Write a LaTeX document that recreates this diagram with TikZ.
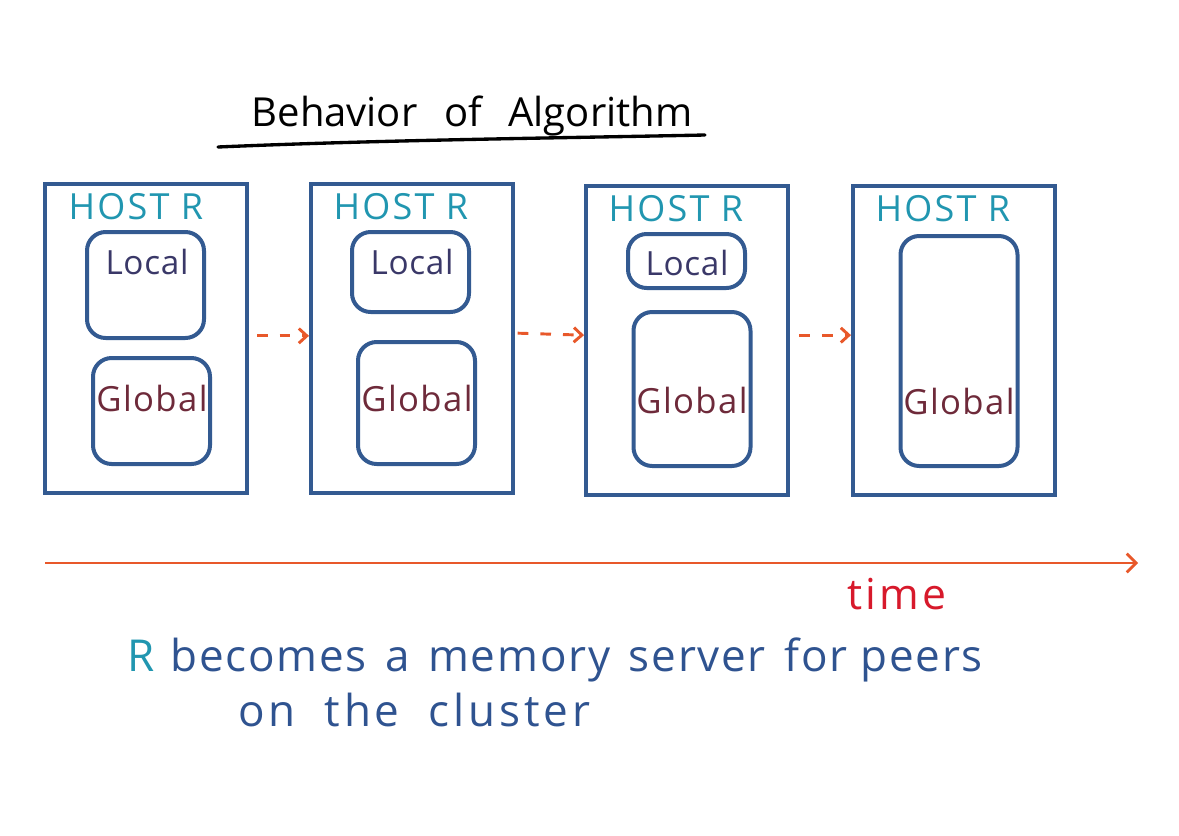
\documentclass[tikz,border=0pt]{standalone}
\usepackage{fontspec}
\setmainfont{Open Sans}
\usetikzlibrary{arrows.meta,calc}
\definecolor{boxblue}{RGB}{51,90,145}
\definecolor{hostcol}{RGB}{33,150,176}
\definecolor{localcol}{RGB}{58,56,104}
\definecolor{globalcol}{RGB}{110,42,58}
\definecolor{orangecol}{RGB}{232,88,42}
\definecolor{timecol}{RGB}{215,25,43}
\definecolor{textblue}{RGB}{47,83,144}
\tikzset{
  hostbox/.style={draw=boxblue, line width=3pt, minimum width=202*0.75pt, minimum height=309*0.75pt, inner sep=0pt},
  membox/.style={draw=boxblue, line width=3pt, rounded corners=14pt, minimum width=117*0.75pt, inner sep=0pt},
  hostlbl/.style={text=hostcol, font=\fontsize{27}{30}\selectfont\addfontfeature{LetterSpace=6}, inner sep=0pt},
  locallbl/.style={text=localcol, font=\fontsize{25}{28}\selectfont\addfontfeature{LetterSpace=2}, inner sep=0pt},
  globallbl/.style={text=globalcol, font=\fontsize{26}{30}\selectfont\addfontfeature{LetterSpace=4}, inner sep=0pt},
  dasharr/.style={draw=orangecol, line width=2.2pt, dash pattern=on 8pt off 9pt, -{Straight Barb[length=6pt,width=11pt,line width=2.2pt]}},
}
\begin{document}
\begin{tikzpicture}[x=0.75pt,y=-0.75pt]
\useasboundingbox (0,0) rectangle (1179,836);
% title
\node[inner sep=0pt, font=\fontsize{30}{34}\selectfont] (title) at (472,116) {Behavior\hspace{20pt}of\hspace{20pt}Algorithm};
\coordinate (ulA) at (218,147);
\coordinate (ulB) at (705,135);
\draw[line width=2.5pt, line cap=round] (ulA) .. controls (380,140) and (560,138) .. (ulB);
% boxes
\node[hostbox] (b1) at (146,338.5) {};
\node[hostbox] (b2) at (412,338.5) {};
\node[hostbox] (b3) at (687,340.5) {};
\node[hostbox] (b4) at (954,340.5) {};
% memory boxes
\node[membox, minimum height=106*0.75pt] (l1) at (145.5,285) {};
\node[membox, minimum height=106*0.75pt] (g1) at (151.5,411) {};
\node[membox, minimum height=80*0.75pt] (l2) at (410.5,272) {};
\node[membox, minimum height=122*0.75pt] (g2) at (416.5,403) {};
\node[membox, minimum height=54*0.75pt] (l3) at (686.5,261) {};
\node[membox, minimum height=154*0.75pt] (g3) at (692,389) {};
\node[membox, minimum height=230*0.75pt] (g4) at (959,351) {};
% labels
\node[hostlbl] (h1) at (136,207) {HOST R};
\node[hostlbl] (h2) at (401,207) {HOST R};
\node[hostlbl] (h3) at (676,209) {HOST R};
\node[hostlbl] (h4) at (943,209) {HOST R};
\node[locallbl] (lt1) at (147,262) {Local};
\node[locallbl] (lt2) at (412,262) {Local};
\node[locallbl] (lt3) at (687,263) {Local};
\node[globallbl] (gt1) at (152,398) {Global};
\node[globallbl] (gt2) at (417,398) {Global};
\node[globallbl] (gt3) at (692,400) {Global};
\node[globallbl] (gt4) at (959,401) {Global};
% dashed arrows
\draw[dasharr] ([xshift=6pt,yshift=2pt]b1.east) -- ([yshift=2pt]b2.west);
\draw[dasharr] ([xshift=2pt,yshift=4pt]b2.east) -- ([yshift=4pt]b3.west);
\draw[dasharr] ([xshift=7pt,yshift=4pt]b3.east) -- ([yshift=4pt]b4.west);
% time axis
\coordinate (tA) at (45,563);
\coordinate (tB) at (1138,563);
\draw[orangecol, line width=2pt, -{Straight Barb[length=7pt,width=14pt,line width=2pt]}] (tA) -- (tB);
\node[text=timecol, font=\fontsize{32}{36}\selectfont\addfontfeature{LetterSpace=8}, inner sep=0pt] (time) at (897,594) {time};
% bottom text
\node[anchor=west, inner sep=0pt, font=\fontsize{33}{38}\selectfont\addfontfeature{LetterSpace=4}] (line1) at (127,660) {\textcolor{hostcol}{R}\hspace{12pt}\textcolor{textblue}{becomes\hspace{4pt} a\hspace{4pt} memory\hspace{4pt} server\hspace{4pt} for peers}};
\node[anchor=west, inner sep=0pt, text=textblue, font=\fontsize{33}{38}\selectfont\addfontfeature{LetterSpace=9}] (line2) at (238,710) {on\hspace{10pt} the\hspace{10pt} cluster};
\end{tikzpicture}
\end{document}
